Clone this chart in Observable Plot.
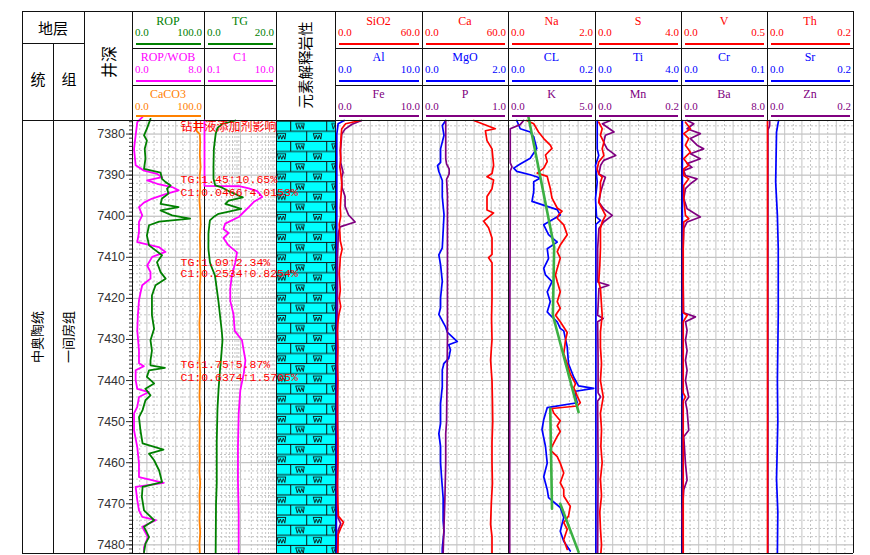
<!DOCTYPE html>
<html><head><meta charset="utf-8">
<script src="https://cdn.jsdelivr.net/npm/d3@7"></script>
<script src="https://cdn.jsdelivr.net/npm/@observablehq/plot@0.6"></script>
<style>
body{margin:0;background:#fff;}
#chart{position:relative;width:870px;height:555px;overflow:hidden;background:#fff;}
#chart svg{display:block;}
.ln{position:absolute;background:#111;}
</style></head>
<body>
<svg width="0" height="0" style="position:absolute">
 <defs>
  <pattern id="lith" patternUnits="userSpaceOnUse" x="0" y="0.7" width="36" height="20.2">
   <rect width="36" height="20.2" fill="#00ffff"/>
   <path d="M0,0.5H36M0,10.6H36M14.7,0.5V10.6M30.7,10.6V20.2" stroke="#111" stroke-width="1" fill="none"/>
   <path d="M19.5,2.8H28.5M19.8,2.8L21.3,8.4L22.8,4.4L24.3,8.4L25.8,4.4L27.3,8.4L28.2,2.8" stroke="#111" stroke-width="0.9" fill="none"/>
   <path d="M1,12.9H10M1.3,12.9L2.8,18.5L4.3,14.5L5.8,18.5L7.3,14.5L8.8,18.5L9.7,12.9" stroke="#111" stroke-width="0.9" fill="none"/>
  </pattern>
 </defs>
</svg>
<div id="chart"></div>
<script>
// ---------------- data ----------------
const depthDomain = [7376.7, 7482.1];
const depthLabels = [7380, 7390, 7400, 7410, 7420, 7430, 7440, 7450, 7460, 7470, 7480];

const strata = [{top: 7376.7, base: 7482.1, system: "中奥陶统", formation: "一间房组"}];
const lithology = [{top: 7376.7, base: 7482.1, rock: "灰岩"}];

const ROP = [[7376.3,25],[7378.7,20],[7380.3,16],[7381.6,20],[7383.6,17],[7386,18],[7388.5,16],[7389.4,39],[7390.9,41],[7391.7,46],[7392.5,53],[7393.3,48],[7394.5,50],[7395.7,41],[7397,39],[7397.8,64],[7398.6,39],[7399.8,55],[7400.6,80],[7401.3,37],[7402.2,23],[7404.7,20],[7407.1,23],[7409.5,41],[7411.2,34],[7413.6,39],[7415.2,46],[7416.8,32],[7419.3,27],[7421.7,27],[7424.1,27],[7427.4,30],[7430.2,25],[7432.7,27],[7435.1,25],[7436.3,25],[7436.9,45],[7437.5,23],[7439.1,20],[7440.7,30],[7442,18],[7443.6,25],[7444.8,18],[7447.2,14],[7448.9,9],[7452.1,11],[7455.3,14],[7456.8,43],[7457.8,23],[7459.4,30],[7461.9,37],[7464.7,41],[7465.9,14],[7468.3,13],[7471.6,16],[7474,30],[7475.6,16],[7478.1,23],[7479.7,18],[7481.8,16]];
const ROPWOB = [[7375.9,1.1],[7377.1,0.53],[7380.3,0.35],[7383.6,0.17],[7387.6,0.35],[7388.9,1.27],[7389.7,2.74],[7390.5,3.3],[7391.3,1.63],[7392.1,2.74],[7392.9,4.4],[7393.7,5.13],[7394.5,3.84],[7395.7,2.19],[7396.7,1.27],[7397.8,0.72],[7399.8,1.08],[7401.4,0.72],[7403.9,0.72],[7406.3,0.53],[7407.5,2.92],[7408.7,3.66],[7409.9,2.19],[7412,1.63],[7413.6,2.0],[7415.2,2.0],[7416.8,1.08],[7418.5,0.9],[7420.5,0.72],[7424,0.6],[7427.8,0.53],[7432.7,0.72],[7435.8,0.72],[7436.5,1.27],[7437.5,0.35],[7439.9,0.35],[7442,0.53],[7442.8,1.82],[7444,0.72],[7446.4,0.53],[7448,0.17],[7452.1,0.17],[7456.2,0.53],[7460.2,0.72],[7463.5,0.72],[7464.9,3.48],[7465.9,0.35],[7469.1,0.53],[7471.6,0.72],[7473.2,1.08],[7474,2.6],[7475.6,1.08],[7478.1,1.7],[7480.6,1.27],[7482,1.27]];
const CaCO3 = [[7376.7,88],[7378,88.5],[7379.2,89],[7380,93.5],[7382,94],[7385,93.5],[7388,94.5],[7390,93.5],[7393,94],[7396,93],[7399,94],[7402,94.5],[7405,93.5],[7408,94],[7411,93.5],[7414,94.5],[7417,93.5],[7420,93.5],[7423,94],[7426,93],[7429,93.5],[7432,94],[7435,93],[7438,94],[7441,93.5],[7444,93],[7447,94],[7450,93],[7453,93.5],[7456,93],[7459,93.5],[7462,93],[7465,94],[7468,93],[7471,93.5],[7474,93],[7477,94],[7480,93],[7482,93.5]];
const TG = [[7376.7,8.6],[7377.5,5.0],[7378.5,3.6],[7380,3.1],[7383.6,2.6],[7387.7,2.5],[7390.9,2.5],[7392.5,3.0],[7393,4.8],[7394.1,7.2],[7395.4,10.65],[7396.2,6.7],[7397,5.8],[7398.2,10.2],[7399.4,3.9],[7400.2,2.5],[7401,1.5],[7404.1,1.1],[7408,1.09],[7411.2,1.5],[7412,1.8],[7414.4,2.9],[7417.6,3.4],[7420.9,3.9],[7424.1,4.3],[7428,4.8],[7430.2,5.0],[7434.6,4.6],[7437.5,4.3],[7442.2,3.9],[7447,3.6],[7455,3.4],[7465,3.4],[7470,3.2],[7482,3.1]];
const C1 = [[7376.7,0.0466],[7392.6,0.0466],[7392.7,0.91],[7393.2,1.7],[7393.9,2.92],[7395.3,4.0153],[7396.5,2.35],[7397.8,1.7],[7399.4,1.1],[7400.2,0.89],[7401.8,0.376],[7403.1,0.336],[7404.1,0.465],[7405.3,0.336],[7407.1,0.465],[7408.8,0.8],[7411.2,0.72],[7414.4,0.575],[7417.6,0.52],[7420.6,0.52],[7423.9,0.64],[7427.9,0.69],[7430.2,1.1],[7432.7,1.23],[7435.1,1.37],[7438.3,1.23],[7442.3,0.99],[7448,0.89],[7456.2,0.85],[7464.3,0.85],[7472.4,0.89],[7480.5,0.89],[7482.1,0.89]];

const SiO2 = [[7376.7,17],[7377.5,7],[7378.7,4.3],[7380,4],[7382,3.6],[7384,3.3],[7386,3.6],[7388,3.0],[7390,3.8],[7392,4.3],[7394,4.0],[7396,3.6],[7398,3.3],[7400,3.6],[7402,2.6],[7404,3.0],[7406,3.3],[7408,4.6],[7410,3.3],[7412,3.0],[7414,2.6],[7416,3.0],[7418,3.3],[7420,2.6],[7422,3.6],[7424,2.3],[7426,1.6],[7428,1.3],[7432,1.6],[7436,1.3],[7440,1.6],[7444,1.3],[7450,1.3],[7455,1.6],[7460,1.6],[7465,1.3],[7470,1.6],[7473,2.0],[7474.5,5.5],[7476,3.5],[7477.5,1.8],[7482,1.6]];
const Al = [[7376.7,1.0],[7377.5,0.3],[7380,0.15],[7400,0.15],[7420,0.12],[7440,0.1],[7460,0.1],[7482,0.1]];
const Fe = [[7376.7,3.0],[7377.6,1.9],[7378.8,1.1],[7380,0.72],[7384,0.58],[7387,0.6],[7389.3,0.87],[7390.5,0.72],[7393,0.75],[7395.2,1.1],[7397.6,1.1],[7399.7,1.5],[7401.4,2.26],[7402.6,0.52],[7404,0.33],[7410,0.23],[7430,0.23],[7450,0.25],[7470,0.23],[7473.5,0.3],[7474.8,0.6],[7476.5,0.3],[7482,0.23]];

const Ca = [[7376.7,35.8],[7378.7,50.8],[7379.2,43.9],[7381.6,45],[7383.6,48.5],[7387.6,49.6],[7389.6,48.5],[7390.4,45],[7391.2,49.6],[7393.3,48.5],[7395.2,45],[7398.5,45],[7399.2,49.6],[7401.2,42.7],[7402.8,46.1],[7405.3,48.5],[7409.3,48.5],[7410.1,46.1],[7411.3,48.5],[7415,48.5],[7420,48.5],[7425,48.2],[7430,48.5],[7435,47.5],[7440,48.5],[7445,48.8],[7450,49],[7455,48.5],[7460,48.5],[7465,48.8],[7470,48],[7475,47.5],[7478,48.5],[7482,48.5]];
const MgO = [[7376.7,0.54],[7377.9,0.46],[7380.3,0.5],[7383.6,0.42],[7386.9,0.42],[7387.7,0.35],[7389.1,0.38],[7391.3,0.46],[7395.3,0.46],[7399.6,0.5],[7403.7,0.48],[7407.7,0.46],[7409.4,0.38],[7411.8,0.42],[7415.8,0.46],[7419.9,0.42],[7422.3,0.42],[7423.9,0.38],[7427,0.54],[7428.3,0.58],[7430.5,0.81],[7431.3,0.61],[7432.5,0.65],[7434.6,0.61],[7435.8,0.5],[7437.4,0.46],[7441.5,0.46],[7445.6,0.42],[7450.5,0.42],[7452.9,0.38],[7456,0.42],[7460,0.42],[7464.5,0.45],[7468.6,0.48],[7474.2,0.48],[7476.7,0.5],[7480.8,0.46],[7482,0.46]];
const P = [[7376.7,0.27],[7386,0.27],[7387.3,0.28],[7388.5,0.31],[7389.7,0.31],[7391,0.28],[7395,0.29],[7410,0.29],[7430,0.29],[7450,0.28],[7452.9,0.27],[7460,0.27],[7469.1,0.26],[7475.5,0.25],[7482,0.24]];

const Na = [[7376.7,0.42],[7377.5,0.58],[7379.5,0.69],[7381.1,0.81],[7382.7,0.96],[7383.5,1.0],[7385.1,0.85],[7386.7,0.89],[7388.3,0.81],[7389.5,0.66],[7390.3,0.89],[7391.6,0.92],[7393.2,0.96],[7395.6,1.0],[7398,1.12],[7398.8,1.23],[7399.7,1.15],[7400.5,1.12],[7402.1,1.27],[7404.5,1.35],[7407,1.19],[7408.6,1.12],[7410.2,1.19],[7412.7,1.12],[7414.3,1.08],[7415.9,1.12],[7418.4,1.19],[7420.8,1.12],[7422.4,1.19],[7424.1,1.08],[7425.7,1.19],[7428.3,1.35],[7430.2,1.31],[7433.5,1.27],[7435.9,1.35],[7438.4,1.42],[7440.8,1.54],[7441.7,1.5],[7443.8,1.58],[7445.4,1.65],[7446.2,1.58],[7446.8,1.0],[7447.9,1.04],[7449.8,1.19],[7451,1.12],[7452.4,1.19],[7453.6,1.12],[7456.9,0.96],[7458.5,1.12],[7460.1,1.19],[7462.5,1.27],[7464.9,1.19],[7466.5,1.27],[7468.1,1.27],[7470.6,1.42],[7473,1.38],[7474.6,1.27],[7476.2,1.35],[7478.7,1.27],[7481.1,1.35]];
const CL = [[7376.7,0.019],[7378.7,0.027],[7379.5,0.05],[7380.7,0.058],[7383.5,0.065],[7385.9,0.05],[7387.3,0.027],[7388.3,0.012],[7389.1,0.019],[7389.9,0.05],[7390.7,0.073],[7391.6,0.058],[7394,0.058],[7396.4,0.054],[7397.6,0.089],[7398.4,0.112],[7399.7,0.119],[7402.1,0.081],[7404.5,0.092],[7406.3,0.112],[7407.9,0.089],[7410.3,0.092],[7412.7,0.081],[7414.3,0.085],[7415.9,0.1],[7418.4,0.089],[7420.8,0.096],[7423.3,0.089],[7424.1,0.096],[7425.7,0.112],[7427.3,0.119],[7427.9,0.127],[7431.8,0.135],[7435.9,0.138],[7439.2,0.15],[7441.3,0.161],[7441.9,0.196],[7442.6,0.154],[7443.8,0.154],[7445.4,0.158],[7446.6,0.089],[7449.5,0.081],[7451.9,0.077],[7456,0.085],[7460.1,0.089],[7463.4,0.081],[7466.5,0.089],[7468.5,0.092],[7470.9,0.119],[7473.3,0.127],[7476.7,0.119],[7479.1,0.127],[7481.5,0.142]];
const K = [[7376.7,0.87],[7377.7,0.67],[7378.7,0.1],[7387,0.1],[7388,0.2],[7389,0.1],[7400,0.1],[7420,0.08],[7450,0.07],[7482,0.07]];
const NaTrend = [[7375.9,0.46,1],[7407.5,1.05,1],[7424.1,1.02,1],[7447.7,1.61,1],[7446.8,0.96,2],[7471.2,1.0,2],[7470.0,1.19,3],[7481.7,1.61,3]];

const S = [[7377.1,0.15],[7378.7,0.31],[7380.3,0.23],[7382,0.39],[7383.6,0.31],[7385.2,0.39],[7386.8,0.15],[7388.5,0.08],[7389.7,0.15],[7390.5,0.31],[7391.7,0.23],[7394.1,0.23],[7396.6,0.15],[7398.2,0.31],[7399.8,0.47],[7401.4,0.31],[7403,0.23],[7407.9,0.23],[7412,0.2],[7416,0.15],[7417.6,0.23],[7424.1,0.31],[7428.2,0.23],[7431.8,0.23],[7435.9,0.28],[7440,0.23],[7444,0.36],[7448,0.23],[7452,0.28],[7456,0.25],[7460,0.31],[7464,0.23],[7468,0.28],[7472,0.2],[7476,0.23],[7480,0.28],[7482,0.25]];
const Ti = [[7376.7,0.08],[7383.6,0.08],[7385.2,0.15],[7387.6,0.0],[7391.7,0.08],[7395.7,0.0],[7400.2,0.05],[7401,0.23],[7402,0.02],[7420,0.02],[7440,0.02],[7460,0.02],[7482,0.02]];
const Mn = [[7376.7,0.035],[7377.5,0.016],[7379.5,0.043],[7380.3,0.023],[7382,0.019],[7383.6,0.027],[7385.2,0.047],[7386.4,0.019],[7387.6,0.012],[7389.7,0.008],[7390.5,0.023],[7391.7,0.019],[7394.1,0.012],[7396.6,0.008],[7398.2,0.019],[7399.8,0.039],[7401.4,0.019],[7403,0.008],[7407.9,0.005],[7416,0.005],[7416.8,0.031],[7417.6,0.008],[7424.1,0.005],[7424.9,0.018],[7425.7,0.005],[7435,0.006],[7443,0.006],[7444,0.012],[7445,0.005],[7460,0.006],[7482,0.005]];

const V = [[7377.1,0.023],[7378.7,0.052],[7379.9,0.013],[7381.1,0.042],[7382.7,0.023],[7384.4,0.052],[7386,0.013],[7387.6,0.042],[7388.5,0.013],[7390.1,0.013],[7390.9,0.042],[7392.5,0.013],[7395.7,0.013],[7399.8,0.023],[7400.6,0.042],[7401.4,0.013],[7407.9,0.01],[7423.5,0.01],[7424.1,0.033],[7425.7,0.01],[7443,0.01],[7444,0.023],[7445,0.01],[7482,0.01]];
const Cr = [[7376.7,0.001],[7482,0.001]];
const Ba = [[7376.7,0.52],[7377.5,1.14],[7378.7,0.52],[7379.9,1.75],[7381.1,0.83],[7382.7,1.45],[7383.6,2.06],[7384.8,0.83],[7386,1.75],[7387.2,0.52],[7388.1,0.98],[7388.9,0.21],[7390.1,0.37],[7390.9,1.45],[7392.1,0.83],[7393.3,0.37],[7395.7,0.21],[7398.2,0.52],[7400.2,1.75],[7401.4,0.52],[7403,0.21],[7407.9,0.15],[7416,0.15],[7423.5,0.2],[7424.5,1.29],[7425.7,0.37],[7427.8,0.52],[7430.2,0.37],[7432.7,0.52],[7435.1,0.37],[7437.5,0.52],[7440,0.37],[7444,0.67],[7445.2,0.37],[7447.2,0.52],[7452.1,0.67],[7453.7,0.21],[7460.2,0.37],[7464.2,0.52],[7466.6,0.21],[7472.3,0.06],[7480.4,0.15],[7482,0.15]];

const Th = [[7376.7,0.0],[7482,0.0]];
const Sr = [[7376.7,0.026],[7377.1,0.025],[7379.5,0.021],[7391.7,0.019],[7399.8,0.023],[7407.9,0.025],[7424.1,0.025],[7440,0.023],[7450,0.024],[7464,0.021],[7472,0.024],[7482,0.023]];
const Zn = [[7376.7,0.005],[7378,0.005],[7379,0.001],[7482,0.001]];

const annotDepth = [7378.2, 7390.9, 7394.1, 7411.2, 7414.0, 7436.1, 7439.1];
const annotText = ["钻井液添加剂影响", "TG:1.45↑10.65%", "C1:0.0466↑4.0153%", "TG:1.09↑2.34%", "C1:0.2534↑0.8254%", "TG:1.75↑5.87%", "C1:0.6374↑1.5705%"];

// ---------------- styles / layout ----------------
const RED = "#ff0000", BLUE = "#0000ff", PURPLE = "#800080", GREEN = "#008000",
      MAGENTA = "#ff00ff", ORANGE = "#ff8000", TREND = "#3cb043";
const SERIF = '"Liberation Serif","Noto Sans CJK SC",serif';
const CJK = '"Noto Sans CJK SC",sans-serif';
const SANS = '"Liberation Sans",Arial,sans-serif';
const MONO = '"Liberation Mono","DejaVu Sans Mono",monospace';

const TOP = 120, BOT = 553, H = BOT - TOP;
const HEAD_TOP = 11;
const nameY = [20.5, 56.5, 93.5], scaleY = [31.5, 69, 105.5], barY = [44, 81, 116];
const colTong = [22, 53], colZu = [53, 84], colDepth = [84, 132];
const edges1 = [132, 204], edges2 = [204, 276], edgesLith = [276, 335];
const elemEdges = [335, 422, 508, 595, 681, 767, 853];

const track1 = [
  {name: "ROP", domain: [0, 100], color: GREEN, data: ROP},
  {name: "ROP/WOB", domain: [0, 8], color: MAGENTA, data: ROPWOB},
  {name: "CaCO3", domain: [0, 100], color: ORANGE, data: CaCO3}
];
const track2 = [
  {name: "TG", domain: [0, 20], color: GREEN, data: TG},
  {name: "C1", domain: [0.1, 10], color: MAGENTA, data: C1, log: true}
];
const elemTracks = [
  [{name: "SiO2", domain: [0, 60], color: RED, data: SiO2}, {name: "Al", domain: [0, 10], color: BLUE, data: Al}, {name: "Fe", domain: [0, 10], color: PURPLE, data: Fe}],
  [{name: "Ca", domain: [0, 60], color: RED, data: Ca}, {name: "MgO", domain: [0, 2], color: BLUE, data: MgO}, {name: "P", domain: [0, 1], color: PURPLE, data: P}],
  [{name: "Na", domain: [0, 2], color: RED, data: Na}, {name: "CL", domain: [0, 0.2], color: BLUE, data: CL}, {name: "K", domain: [0, 5], color: PURPLE, data: K}],
  [{name: "S", domain: [0, 4], color: RED, data: S}, {name: "Ti", domain: [0, 4], color: BLUE, data: Ti}, {name: "Mn", domain: [0, 0.2], color: PURPLE, data: Mn}],
  [{name: "V", domain: [0, 0.5], color: RED, data: V}, {name: "Cr", domain: [0, 0.1], color: BLUE, data: Cr}, {name: "Ba", domain: [0, 8], color: PURPLE, data: Ba}],
  [{name: "Th", domain: [0, 0.2], color: RED, data: Th}, {name: "Sr", domain: [0, 0.2], color: BLUE, data: Sr}, {name: "Zn", domain: [0, 0.2], color: PURPLE, data: Zn}]
];

const chart = document.getElementById("chart");

function place(node, left, top, width, z) {
  const d = document.createElement("div");
  d.style.cssText = `position:absolute;left:${left}px;top:${top}px;width:${width}px;z-index:${z};`;
  d.appendChild(node);
  chart.appendChild(d);
}
function hline(x1, x2, y, color = "#111", w = 1, z = 6) {
  const d = document.createElement("div");
  d.className = "ln";
  d.style.cssText += `left:${x1}px;top:${y - w / 2}px;width:${x2 - x1}px;height:${w}px;background:${color};z-index:${z};`;
  chart.appendChild(d);
}
function vline(x, y1, y2, color = "#111", w = 1, z = 2) {
  const d = document.createElement("div");
  d.className = "ln";
  d.style.cssText += `left:${x - w / 2}px;top:${y1}px;width:${w}px;height:${y2 - y1}px;background:${color};z-index:${z};`;
  chart.appendChild(d);
}
function label(str, x, y, o = {}) {
  const el = document.createElement("div");
  el.textContent = str;
  const a = o.anchor || "middle";
  const tx = a === "middle" ? "-50%" : a === "end" ? "-100%" : "0";
  el.style.cssText = `position:absolute;left:${x}px;top:${y}px;transform:translate(${tx},-50%)${o.rotate ? ` rotate(${o.rotate}deg)` : ""};font-family:${o.family || SERIF};font-size:${o.size || 12}px;color:${o.color || "#000"};line-height:1;white-space:nowrap;z-index:7;`;
  chart.appendChild(el);
}

function basePlot(width, extra) {
  return Plot.plot(Object.assign({
    width, height: H, margin: 0,
    y: {domain: depthDomain, reverse: true, axis: null},
    style: {background: "transparent", overflow: "visible"}
  }, extra));
}

const minorDepths = d3.range(7378, 7482, 2).filter(d => d % 10 !== 0);
function gridMarks(vMinor, vMajor) {
  return [
    Plot.ruleY(minorDepths, {stroke: "#c4c4c4", strokeDasharray: "2,2"}),
    Plot.ruleY(depthLabels, {stroke: "#b4b4b4"}),
    Plot.ruleX(vMinor, {stroke: "#c4c4c4", strokeDasharray: "2,2"}),
    Plot.ruleX(vMajor, {stroke: "#c4c4c4"})
  ];
}
function linearGrid([x0, x1], domain) {
  const [lo, hi] = domain;
  const t = d3.range(1, 10).map(i => lo + (hi - lo) * i / 10);
  const svg = basePlot(x1 - x0, {x: {domain, axis: null},
    marks: gridMarks(t.filter((d, i) => i % 2 === 0), t.filter((d, i) => i % 2 === 1))});
  place(svg, x0, TOP, x1 - x0, 1);
}
function logGrid([x0, x1], domain) {
  const minor = [0.2,0.3,0.4,0.5,0.6,0.7,0.8,0.9,2,3,4,5,6,7,8,9];
  const svg = basePlot(x1 - x0, {x: {type: "log", domain, axis: null},
    marks: gridMarks(minor, [1])});
  place(svg, x0, TOP, x1 - x0, 1);
}
function curve([x0, x1], c, extraMarks = [], sw = 1.7) {
  const svg = basePlot(x1 - x0, {
    x: {domain: c.domain, type: c.log ? "log" : "linear", clamp: !!c.log, axis: null},
    marks: [Plot.line(c.data, {x: d => d[1], y: d => d[0], stroke: c.color, strokeWidth: sw}), ...extraMarks]
  });
  place(svg, x0, TOP, x1 - x0, 3);
}
function header([x0, x1], curves) {
  curves.forEach((c, i) => {
    if (!c) return;
    const cx = (x0 + x1) / 2;
    label(c.name, cx, nameY[i], {color: c.color, size: 12});
    label(c.domain[0].toFixed(1), x0 + 3, scaleY[i], {color: c.color, anchor: "start", size: 11});
    label(c.domain[1].toFixed(1), x1 - 2, scaleY[i], {color: c.color, anchor: "end", size: 11});
    hline(x0 + 4, x1 - 3, barY[i], c.color, 2, 6);
  });
}

// ---------------- grids ----------------
linearGrid(edges1, [0, 100]);
logGrid(edges2, [0.1, 10]);
elemTracks.forEach((tr, i) => linearGrid([elemEdges[i], elemEdges[i + 1]], tr[0].domain));

// lithology
place(basePlot(edgesLith[1] - edgesLith[0], {
  marks: [Plot.rect(lithology, {y1: "top", y2: "base", fill: "url(#lith)"})]
}), edgesLith[0], TOP, edgesLith[1] - edgesLith[0], 1);

// depth axis
place(Plot.plot({
  width: colDepth[1] - colDepth[0], height: H, marginTop: 0, marginBottom: 0,
  marginLeft: colDepth[1] - colDepth[0], marginRight: 0,
  y: {domain: depthDomain, reverse: true, axis: null},
  style: {background: "transparent", overflow: "visible", fontFamily: SANS},
  marks: [
    Plot.axisY({anchor: "left", ticks: d3.range(7377, 7483, 1), tickSize: 3, tickFormat: () => "", stroke: "#333", label: null}),
    Plot.axisY({anchor: "left", ticks: depthLabels, tickSize: 6, tickPadding: 1.5, tickFormat: d => String(d), fontSize: 12.5, fill: "#333", stroke: "#333", label: null})
  ]
}), colDepth[0], TOP, colDepth[1] - colDepth[0], 3);

// stratigraphy
[[colTong, "system"], [colZu, "formation"]].forEach(([c, key]) => {
  place(basePlot(c[1] - c[0], {
    marks: [Plot.text(strata, {y: d => (d.top + d.base) / 2, text: key, rotate: -90, frameAnchor: "middle", fontSize: 13, fontFamily: CJK, fill: "#000"})]
  }), c[0], TOP, c[1] - c[0], 3);
});

// ---------------- curves ----------------
curve(edges1, track1[2], [], 1.8);
curve(edges1, track1[1], [], 1.8);
curve(edges1, track1[0], [], 1.8);
curve(edges2, track2[1], [], 1.8);
curve(edges2, track2[0], [], 1.8);
elemTracks.forEach((tr, i) => {
  const e = [elemEdges[i], elemEdges[i + 1]];
  curve(e, tr[1]);
  curve(e, tr[2]);
  const extra = tr[0].name === "Na"
    ? [Plot.line(NaTrend, {x: d => d[1], y: d => d[0], z: d => d[2], stroke: TREND, strokeWidth: 2.6})]
    : [];
  curve(e, tr[0], extra);
});

// annotations
const annots = annotDepth.map((d, i) => ({depth: d, text: annotText[i]}));
place(basePlot(edges1[1] - edges1[0], {
  marks: [
    Plot.text(annots.filter(a => /[\u4e00-\u9fff]/.test(a.text)), {y: "depth", text: "text", frameAnchor: "left", dx: 48, textAnchor: "start", fill: RED, fontSize: 12, fontFamily: CJK}),
    Plot.text(annots.filter(a => !/[\u4e00-\u9fff]/.test(a.text)), {y: "depth", text: "text", frameAnchor: "left", dx: 48, textAnchor: "start", fill: RED, fontSize: 11.5, fontFamily: MONO})
  ]
}), edges1[0], TOP, edges1[1] - edges1[0], 5);

// ---------------- frame lines ----------------
const vx = [22, 84, 132, 204, 276, 335, ...elemEdges.slice(1)];
vx.forEach(x => vline(x, HEAD_TOP, BOT, "#111", 1, 2));
vline(53, 43, BOT, "#111", 1, 2);
hline(22, 853, HEAD_TOP);
hline(22, 84, 43);
[48, 85].forEach(y => { hline(132, 276, y); hline(335, 853, y); });
hline(22, 853, TOP);
hline(22, 853, BOT);

// ---------------- header text ----------------
label("地层", 53, 27, {family: CJK, size: 15});
label("统", 38, 78, {family: CJK, size: 15});
label("组", 69, 78, {family: CJK, size: 15});
label("井深", 108, 62, {family: CJK, size: 16, rotate: -90});
label("元素解释岩性", 305, 65, {family: CJK, size: 14.5, rotate: -90});
header(edges1, track1);
header(edges2, track2);
elemTracks.forEach((tr, i) => header([elemEdges[i], elemEdges[i + 1]], tr));
</script>
</body></html>
